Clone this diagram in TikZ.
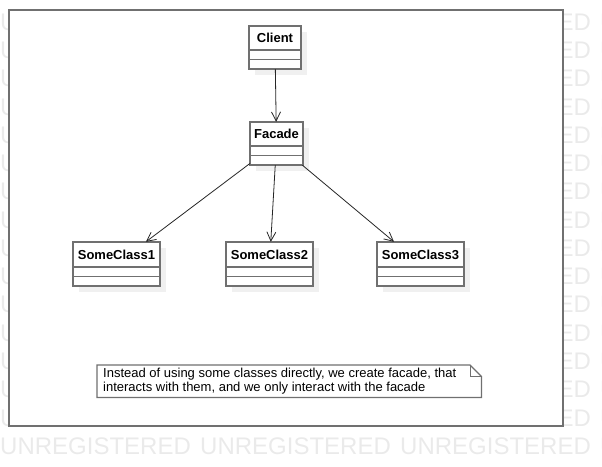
\documentclass[tikz,border=0pt]{standalone}
\usepackage{fontspec}
\setmainfont{Liberation Sans}
\usetikzlibrary{arrows.meta,fit}
\definecolor{wmark}{RGB}{234,234,234}
\definecolor{shadowc}{RGB}{240,240,240}
\definecolor{boxline}{RGB}{112,112,112}
\tikzset{
  wmtext/.style={anchor=west,inner sep=0pt,text=wmark,font=\fontsize{24}{24}\selectfont},
  classline/.style={draw=boxline,line width=1.4pt},
  classname/.style={inner sep=0pt,font=\fontsize{13}{15}\selectfont\bfseries},
  assoc/.style={draw=black!85,line width=0.8pt,-{Straight Barb[length=9pt,width=9pt,line width=0.8pt]}},
  framebox/.style={draw=boxline,line width=1.8pt,fill=white},
  notebox/.style={draw=boxline,line width=1.3pt,fill=white},
  notetext/.style={anchor=north west,inner sep=0pt,align=left,font=\fontsize{13}{13.5}\selectfont}
}
% name, x1, y1, x2, y2, label
\newcommand\umlclassbox[6]{%
  \fill[shadowc] (#2+6,#3+6) rectangle (#4+6,#5+6);
  \fill[white] (#2,#3) rectangle (#4,#5);
  \draw[classline] (#2,#3) rectangle (#4,#5);
  \draw[classline] (#2,#5-19) -- (#4,#5-19);
  \draw[classline] (#2,#5-9.5) -- (#4,#5-9.5);
  \node[fit={(#2,#3) (#4,#5)},inner sep=0pt] (#1) {};
  \node[classname] (#1-label) at ({(#2+#4)/2},{(#3+#5-19)/2}) {#6};
}
\begin{document}
\begin{tikzpicture}[x=1pt,y=-1pt]
\useasboundingbox (0,0) rectangle (602,466);
\begin{scope}
\clip (0,0) rectangle (602,466);
\foreach \r in {0,...,15}{
  \foreach \c in {0,1,2,3}{
    \node[wmtext] at ({\c*200},{22+\r*28.27}) {UNREGISTERED};
  }
}
\end{scope}
\node[framebox,fit={(9,10) (563,426)},inner sep=0pt] (frame) {};

\umlclassbox{client}{249}{26}{301}{69}{Client}
\umlclassbox{facade}{250}{122}{303}{165}{Facade}
\umlclassbox{sc1}{73}{242}{160}{286}{SomeClass1}
\umlclassbox{sc2}{226}{242}{313}{286}{SomeClass2}
\umlclassbox{sc3}{377}{242}{464}{286}{SomeClass3}

\draw[assoc] (client) -- (facade);
\draw[assoc] (facade) -- (sc1);
\draw[assoc] (facade) -- (sc2);
\draw[assoc] (facade) -- (sc3);

\draw[notebox] (97,365) -- (470,365) -- (481.5,376.5) -- (481.5,397.5) -- (97,397.5) -- cycle;
\draw[draw=boxline,line width=1pt] (470,365) -- (470,376.5) -- (481.5,376.5);
\node[fit={(97,365) (481.5,397.5)},inner sep=0pt] (note) {};
\node[notetext] (notetxt) at (103,368) {Instead of using some classes directly, we create facade, that\\interacts with them, and we only interact with the facade};
\end{tikzpicture}
\end{document}
